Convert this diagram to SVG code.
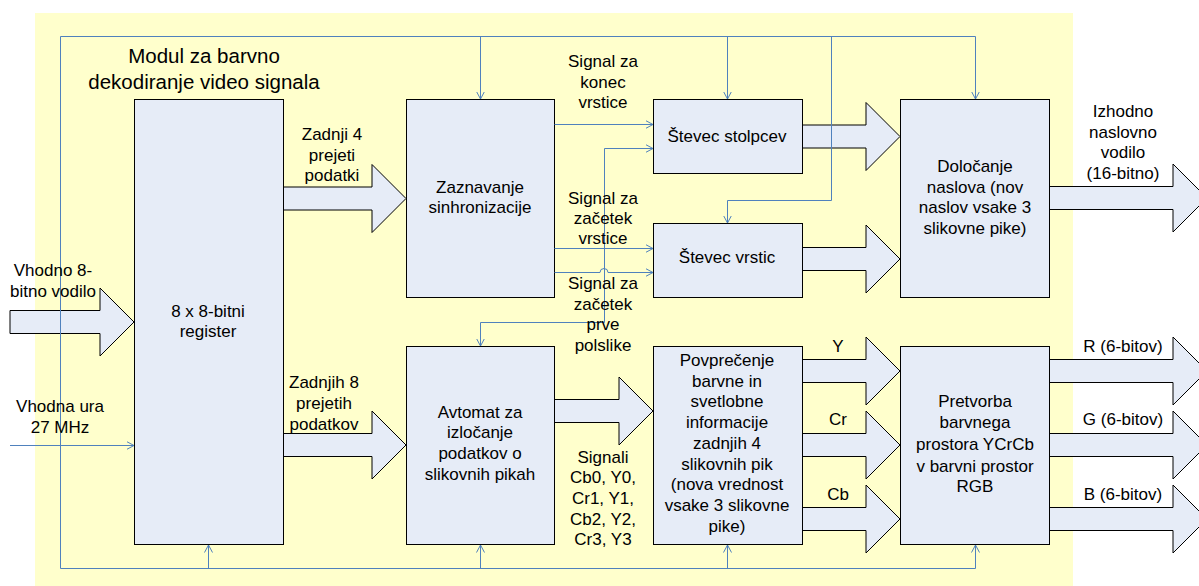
<svg xmlns="http://www.w3.org/2000/svg" width="1199" height="586" viewBox="0 0 1199 586">
  <defs>
    <marker id="tip" viewBox="0 0 8 10" refX="7.5" refY="5" markerWidth="8" markerHeight="10" markerUnits="userSpaceOnUse" orient="auto">
      <path d="M0,1 L7.5,5 L0,9" fill="none" stroke="#4F81BD" stroke-width="1"/>
    </marker>
    <style>
      .box { fill: #E6ECF7; stroke: #000; stroke-width: 1; }
      .fat { fill: #E6ECF7; stroke: #000; stroke-width: 1; stroke-linejoin: miter; }
      .wire { fill: none; stroke: #4F81BD; stroke-width: 1; }
      .arr { marker-end: url(#tip); }
      text { font-family: "Liberation Sans", Arial, sans-serif; font-size: 17px; fill: #000; text-anchor: middle; }
      .title { font-size: 20.5px; }
    </style>
  </defs>

  <!-- module background -->
  <rect x="35" y="13" width="1038" height="573" fill="#FFFFCC"/>

  <!-- wide bus arrows -->
  <g id="buses">
    <polygon class="fat" points="10,310.5 100,310.5 100,288 134,322 100,356 100,333.5 10,333.5"/>
    <polygon class="fat" points="283.5,187 372,187 372,164.5 406,198.5 372,232.5 372,210 283.5,210"/>
    <polygon class="fat" points="283.5,433.5 372,433.5 372,411 406,445 372,479 372,456.5 283.5,456.5"/>
    <polygon class="fat" points="554.5,399.5 619,399.5 619,377 653,411 619,445 619,422.5 554.5,422.5"/>
    <polygon class="fat" points="802.5,125 866,125 866,102.5 900,136.5 866,170.5 866,148 802.5,148"/>
    <polygon class="fat" points="802.5,247.5 866,247.5 866,225 900,259 866,293 866,270.5 802.5,270.5"/>
    <polygon class="fat" points="1049.5,186.5 1173,186.5 1173,164 1207,198 1173,232 1173,209.5 1049.5,209.5"/>
    <polygon class="fat" points="802.5,359.5 866,359.5 866,337 900,371 866,405 866,382.5 802.5,382.5"/>
    <polygon class="fat" points="802.5,433.5 866,433.5 866,411 900,445 866,479 866,456.5 802.5,456.5"/>
    <polygon class="fat" points="802.5,507.5 866,507.5 866,485 900,519 866,553 866,530.5 802.5,530.5"/>
    <polygon class="fat" points="1049.5,359.5 1173,359.5 1173,337 1207,371 1173,405 1173,382.5 1049.5,382.5"/>
    <polygon class="fat" points="1049.5,433.5 1173,433.5 1173,411 1207,445 1173,479 1173,456.5 1049.5,456.5"/>
    <polygon class="fat" points="1049.5,507.5 1173,507.5 1173,485 1207,519 1173,553 1173,530.5 1049.5,530.5"/>
  </g>

  <!-- blocks -->
  <g id="register">
    <rect class="box" x="134.5" y="99.5" width="149" height="445"/>
    <text x="208" y="317">8 x 8-bitni</text>
    <text x="208" y="337">register</text>
  </g>
  <g id="sync">
    <rect class="box" x="406.5" y="99.5" width="148" height="198"/>
    <text x="480" y="193">Zaznavanje</text>
    <text x="480" y="213">sinhronizacije</text>
  </g>
  <g id="col-counter">
    <rect class="box" x="653.5" y="99.5" width="149" height="74"/>
    <text x="727" y="142">Števec stolpcev</text>
  </g>
  <g id="row-counter">
    <rect class="box" x="653.5" y="223.5" width="149" height="74"/>
    <text x="727" y="263">Števec vrstic</text>
  </g>
  <g id="address">
    <rect class="box" x="900.5" y="99.5" width="149" height="198"/>
    <text x="975" y="172">Določanje</text>
    <text x="975" y="193">naslova (nov</text>
    <text x="975" y="213">naslov vsake 3</text>
    <text x="975" y="234">slikovne pike)</text>
  </g>
  <g id="pixel-fsm">
    <rect class="box" x="406.5" y="346.5" width="148" height="198"/>
    <text x="480" y="418">Avtomat za</text>
    <text x="480" y="438">izločanje</text>
    <text x="480" y="459">podatkov o</text>
    <text x="480" y="480">slikovnih pikah</text>
  </g>
  <g id="averaging">
    <rect class="box" x="653.5" y="346.5" width="149" height="198"/>
    <text x="727" y="366">Povprečenje</text>
    <text x="727" y="387">barvne in</text>
    <text x="727" y="407">svetlobne</text>
    <text x="727" y="428">informacije</text>
    <text x="727" y="449">zadnjih 4</text>
    <text x="727" y="470">slikovnih pik</text>
    <text x="727" y="490">(nova vrednost</text>
    <text x="727" y="511">vsake 3 slikovne</text>
    <text x="727" y="532">pike)</text>
  </g>
  <g id="color-convert">
    <rect class="box" x="900.5" y="346.5" width="149" height="198"/>
    <text x="975" y="407">Pretvorba</text>
    <text x="975" y="428">barvnega</text>
    <text x="975" y="450">prostora YCrCb</text>
    <text x="975" y="472">v barvni prostor</text>
    <text x="975" y="492">RGB</text>
  </g>

  <!-- thin signal lines -->
  <g id="connectors">
    <!-- clock distribution loop -->
    <path class="wire" d="M60.5,568.5 V36.5 H975.5"/>
    <path class="wire arr" d="M975.5,36.5 V99"/>
    <path class="wire arr" d="M480.5,36.5 V99"/>
    <path class="wire arr" d="M727.5,36.5 V99"/>
    <path class="wire" d="M831.5,36.5 V200.5 H727.5"/>
    <path class="wire arr" d="M727.5,200.5 V223"/>
    <path class="wire" d="M60.5,568.5 H975.5"/>
    <path class="wire arr" d="M208.5,568.5 V545"/>
    <path class="wire arr" d="M480.5,568.5 V545"/>
    <path class="wire arr" d="M727.5,568.5 V545"/>
    <path class="wire arr" d="M975.5,568.5 V545"/>
    <!-- clock input -->
    <path class="wire arr" d="M10,445.5 H134"/>
    <!-- sync signals -->
    <path class="wire arr" d="M554.5,124.5 H653"/>
    <path class="wire arr" d="M554.5,248.5 H653"/>
    <path class="wire arr" d="M554.5,272.5 H600 A4,4 0 0 1 608,272.5 H653"/>
    <path class="wire arr" d="M604.5,148.5 H653"/>
    <path class="wire" d="M604.5,148.5 V322.5 H480.5"/>
    <path class="wire arr" d="M480.5,322.5 V346"/>
  </g>

  <!-- labels -->
  <g id="labels">
    <text class="title" x="204" y="63">Modul za barvno</text>
    <text class="title" x="204" y="89">dekodiranje video signala</text>
    <text x="332" y="140">Zadnji 4</text>
    <text x="332" y="161">prejeti</text>
    <text x="332" y="181">podatki</text>
    <text x="603" y="67">Signal za</text>
    <text x="603" y="88">konec</text>
    <text x="603" y="108">vrstice</text>
    <text x="603" y="204">Signal za</text>
    <text x="603" y="224">začetek</text>
    <text x="603" y="244">vrstice</text>
    <text x="603" y="289">Signal za</text>
    <text x="603" y="310">začetek</text>
    <text x="603" y="330">prve</text>
    <text x="603" y="351">polslike</text>
    <text x="1123" y="117">Izhodno</text>
    <text x="1123" y="138">naslovno</text>
    <text x="1123" y="158">vodilo</text>
    <text x="1123" y="179">(16-bitno)</text>
    <text x="53" y="276">Vhodno 8-</text>
    <text x="53" y="297">bitno vodilo</text>
    <text x="324" y="388">Zadnjih 8</text>
    <text x="324" y="409">prejetih</text>
    <text x="324" y="430">podatkov</text>
    <text x="60" y="412">Vhodna ura</text>
    <text x="60" y="433">27 MHz</text>
    <text x="603" y="463">Signali</text>
    <text x="603" y="483">Cb0, Y0,</text>
    <text x="603" y="504">Cr1, Y1,</text>
    <text x="603" y="525">Cb2, Y2,</text>
    <text x="603" y="545">Cr3, Y3</text>
    <text x="838" y="352">Y</text>
    <text x="838" y="425">Cr</text>
    <text x="838" y="500">Cb</text>
    <text x="1123" y="352">R (6-bitov)</text>
    <text x="1123" y="425">G (6-bitov)</text>
    <text x="1123" y="500">B (6-bitov)</text>
  </g>
</svg>
